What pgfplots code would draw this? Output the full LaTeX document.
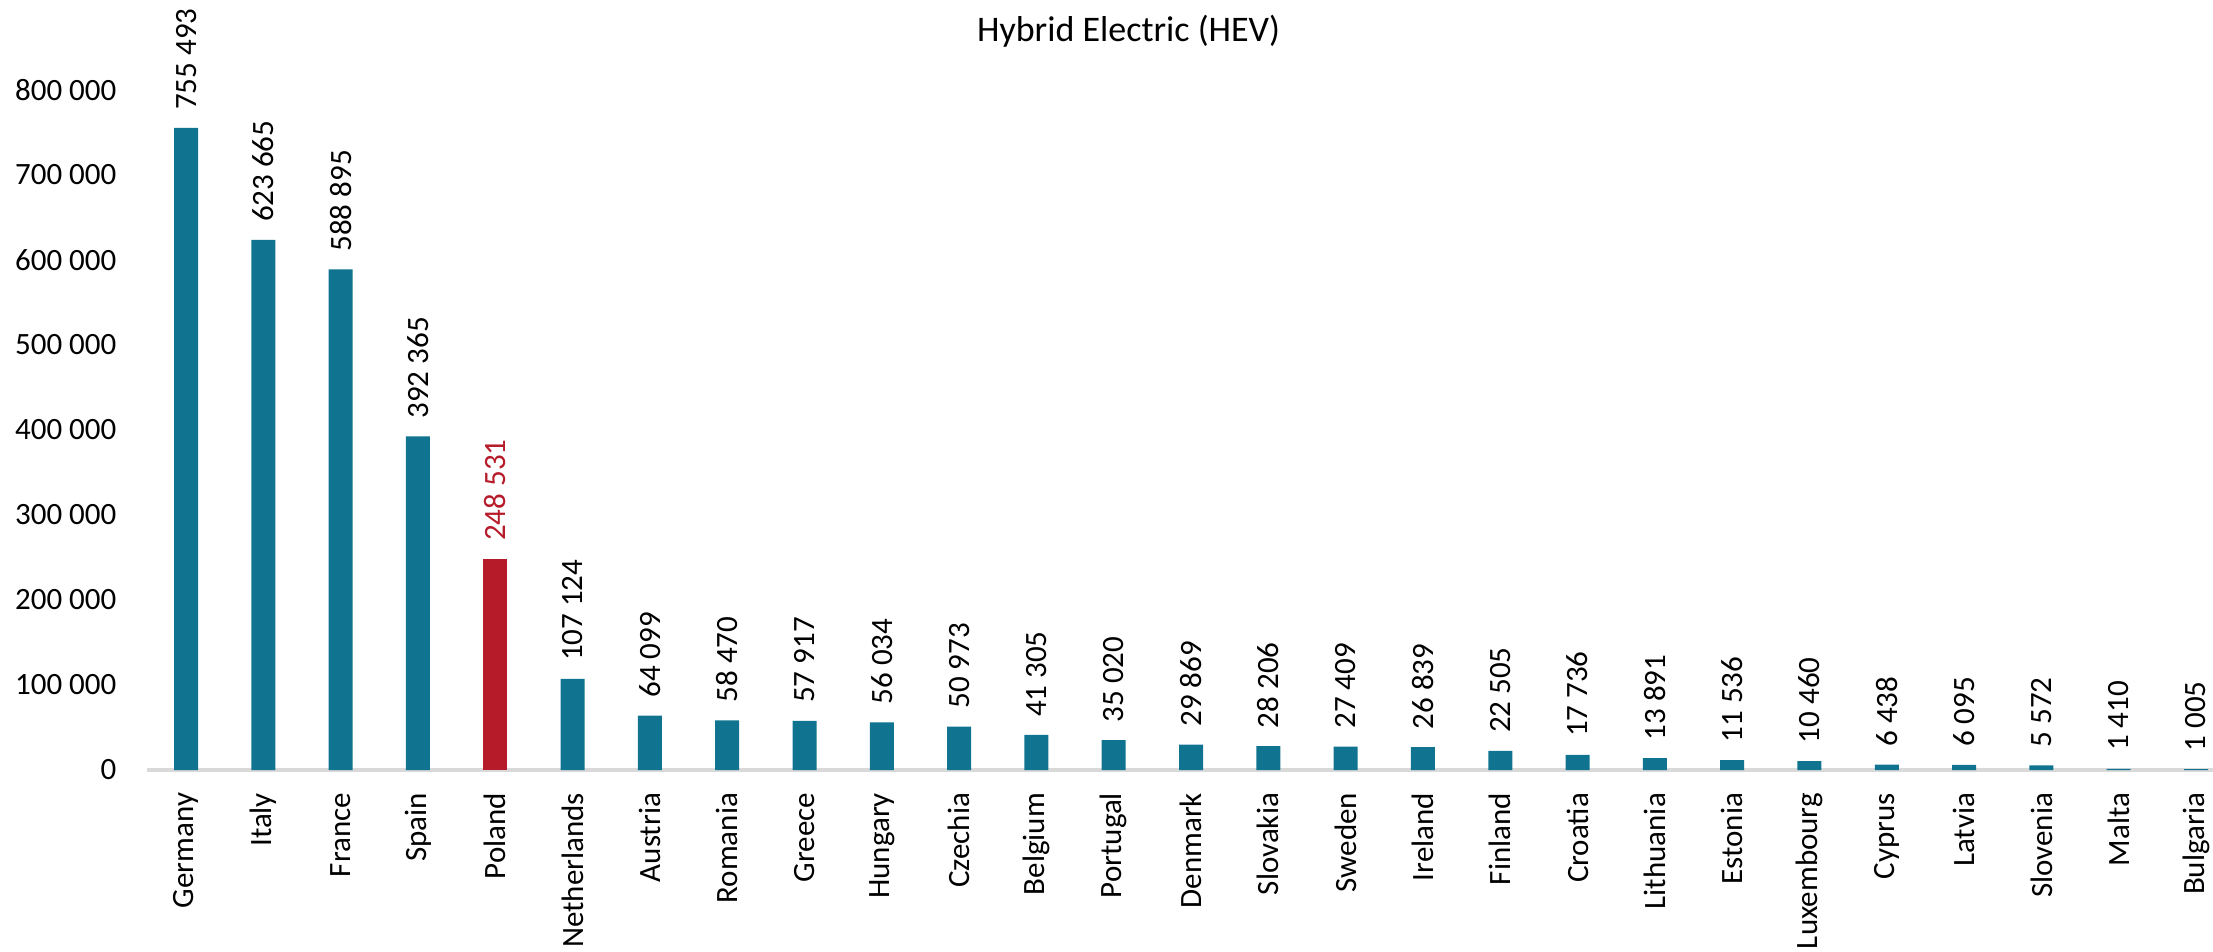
\documentclass[border=0pt]{standalone}
\usepackage{fontspec}
\setmainfont{Carlito}
\usepackage{pgfplots}
\pgfplotsset{compat=1.18}
\definecolor{barteal}{RGB}{16,116,145}
\definecolor{barred}{RGB}{182,27,42}
\definecolor{basegray}{RGB}{217,217,217}
\newcommand{\lf}{\fontsize{6.2}{7.4}\selectfont}
\begin{document}
\begin{tikzpicture}
\begin{axis}[name=ax, at={(0,0)}, anchor=south west,
  scale only axis, width=413.12pt, height=136pt,
  xmin=-0.5, xmax=26.22, ymin=0, ymax=800000,
  ybar, bar width=4.8pt, bar shift=0pt,
  clip=false,
  axis x line*=bottom, axis y line*=left,
  x axis line style={basegray, line width=0.7pt},
  y axis line style={draw=none},
  major tick length=0pt,
  scaled y ticks=false,
  ytick={0,100000,200000,300000,400000,500000,600000,700000,800000},
  yticklabels={0,100\ 000,200\ 000,300\ 000,400\ 000,500\ 000,600\ 000,700\ 000,800\ 000},
  yticklabel style={font=\lf, anchor=east, inner xsep=6pt, inner ysep=0pt, text=black},
  xtick={0,...,26},
  xticklabels={Germany,Italy,France,Spain,Poland,Netherlands,Austria,Romania,Greece,Hungary,Czechia,Belgium,Portugal,Denmark,Slovakia,Sweden,Ireland,Finland,Croatia,Lithuania,Estonia,Luxembourg,Cyprus,Latvia,Slovenia,Malta,Bulgaria},
  xticklabel style={font=\lf, rotate=90, anchor=east, inner xsep=4.4pt, inner ysep=0pt, text=black},
  every axis title shift=0pt,
  title={Hybrid Electric (HEV)},
  title style={at={(0.475,1.087)}, anchor=center, font=\fontsize{7.2}{8.6}\selectfont, inner sep=0pt},
]
\addplot[fill=barteal, draw=none, point meta=explicit symbolic, nodes near coords,
  nodes near coords style={rotate=90, anchor=west, inner xsep=3.4pt, inner ysep=0pt, font=\lf, text=black}]
coordinates {
(0,755493) [755\ 493]
(1,623665) [623\ 665]
(2,588895) [588\ 895]
(3,392365) [392\ 365]
(5,107124) [107\ 124]
(6,64099) [64\ 099]
(7,58470) [58\ 470]
(8,57917) [57\ 917]
(9,56034) [56\ 034]
(10,50973) [50\ 973]
(11,41305) [41\ 305]
(12,35020) [35\ 020]
(13,29869) [29\ 869]
(14,28206) [28\ 206]
(15,27409) [27\ 409]
(16,26839) [26\ 839]
(17,22505) [22\ 505]
(18,17736) [17\ 736]
(19,13891) [13\ 891]
(20,11536) [11\ 536]
(21,10460) [10\ 460]
(22,6438) [6\ 438]
(23,6095) [6\ 095]
(24,5572) [5\ 572]
(25,1410) [1\ 410]
(26,1005) [1\ 005]
};
\addplot[fill=barred, draw=none, point meta=explicit symbolic, nodes near coords,
  nodes near coords style={rotate=90, anchor=west, inner xsep=3.4pt, inner ysep=0pt, font=\lf, text=barred}]
coordinates {
(4,248531) [248\ 531]
};
\end{axis}
\pgfresetboundingbox
\path[use as bounding box] (-29.48pt,-36.4pt) rectangle (413.12pt,154pt);
\end{tikzpicture}
\end{document}
